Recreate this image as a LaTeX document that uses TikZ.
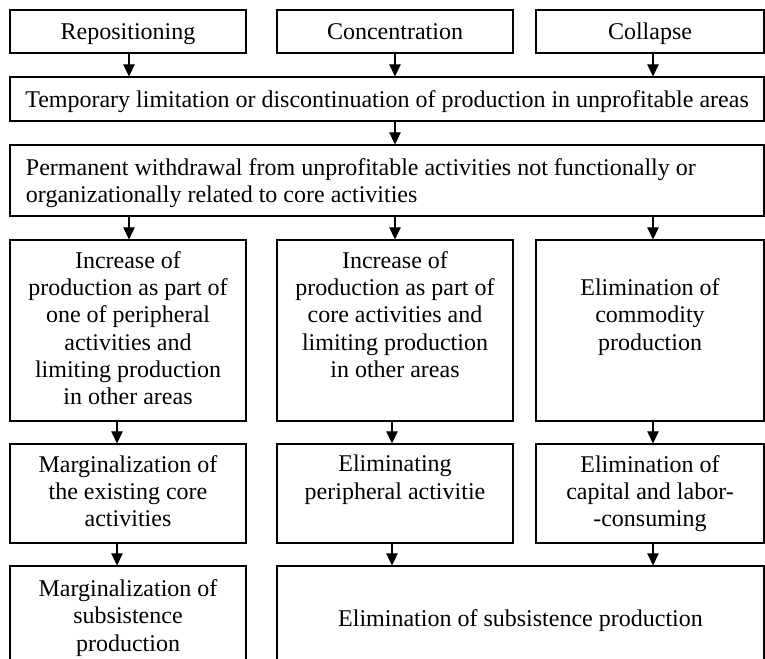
\documentclass[tikz,border=0pt]{standalone}
\usepackage{fontspec}
\setmainfont{Liberation Serif}
\usetikzlibrary{arrows.meta}
\newcommand{\topstr}{\rule{0pt}{16.6pt}}
\newcommand{\botstr}{\rule[-3.9pt]{0pt}{3.9pt}}
\tikzset{
  box/.style={draw, line width=0.8pt, rectangle, align=center, inner sep=0pt,
    font=\fontsize{18}{20.5}\selectfont,
    execute at begin node=\topstr, execute at end node=\botstr},
  arr/.style={line width=0.8pt, -{Triangle[width=8.5pt,length=9pt]}}
}
\begin{document}
\begin{tikzpicture}[x=0.75pt,y=-0.75pt]
\clip (0,0) rectangle (765,659);
% row 1
\node[box, minimum width=177pt, minimum height=32.25pt] (rep) at (128,31.5) {Repositioning};
\node[box, minimum width=177pt, minimum height=32.25pt] (con) at (395,31.5) {Concentration};
\node[box, minimum width=171pt, minimum height=32.25pt] (col) at (650,31.5) {Collapse};
% row 2
\node[box, minimum width=565.5pt, minimum height=33pt] (temp) at (387,99) {Temporary limitation or discontinuation of production in unprofitable areas};
% row 2b
\node[box, minimum width=565.5pt, minimum height=53.25pt, text width=541.5pt, align=flush left] (perm) at (387,180.5) {Permanent withdrawal from unprofitable activities not functionally or\\organizationally related to core activities};
% row 3
\node[box, minimum width=177pt, minimum height=135.75pt] (l3) at (128,330.5) {Increase of\\production as part of\\one of peripheral\\activities and\\limiting production\\in other areas};
\node[box, minimum width=177pt, minimum height=135.75pt] (m3) at (395,330.5) {Increase of\\production as part of\\core activities and\\limiting production\\in other areas\\\mbox{}};
\node[box, minimum width=171pt, minimum height=135.75pt] (r3) at (650,330.5) {Elimination of\\commodity\\production\\\mbox{}};
% row 4
\node[box, minimum width=177pt, minimum height=74.25pt] (l4) at (128,493.5) {Marginalization of\\the existing core\\activities};
\node[box, minimum width=177pt, minimum height=74.25pt] (m4) at (395,493.5) {Eliminating\\peripheral activitie\\\mbox{}};
\node[box, minimum width=171pt, minimum height=74.25pt] (r4) at (650,493.5) {Elimination of\\capital and labor-\\-consuming};
% row 5
\node[box, minimum width=177pt, minimum height=78pt] (l5) at (128,618) {Marginalization of\\subsistence\\production};
\node[box, minimum width=365.25pt, minimum height=78pt] (r5) at (520.5,618) {Elimination of subsistence production};
% arrows
\draw[arr] ([xshift=0.75pt]rep.south) -- ([xshift=0.75pt]rep.south |- temp.north);
\draw[arr] (con.south) -- (con.south |- temp.north);
\draw[arr] ([xshift=2.25pt]col.south) -- ([xshift=2.25pt]col.south |- temp.north);
\draw[arr] ([xshift=6pt]temp.south) -- ([xshift=6pt]temp.south |- perm.north);
\draw[arr] ([xshift=0.75pt]l3.north |- perm.south) -- ([xshift=0.75pt]l3.north);
\draw[arr] (m3.north |- perm.south) -- (m3.north);
\draw[arr] ([xshift=2.25pt]r3.north |- perm.south) -- ([xshift=2.25pt]r3.north);
\draw[arr] ([xshift=-8.25pt]l3.south) -- ([xshift=-8.25pt]l4.north);
\draw[arr] ([xshift=-2.25pt]m3.south) -- ([xshift=-2.25pt]m4.north);
\draw[arr] ([xshift=2.25pt]r3.south) -- ([xshift=2.25pt]r4.north);
\draw[arr] ([xshift=-8.25pt]l4.south) -- ([xshift=-8.25pt]l5.north);
\draw[arr] ([xshift=-2.25pt]m4.south) -- ([xshift=-2.25pt]m4.south |- r5.north);
\draw[arr] ([xshift=2.25pt]r4.south) -- ([xshift=2.25pt]r4.south |- r5.north);
\end{tikzpicture}
\end{document}
